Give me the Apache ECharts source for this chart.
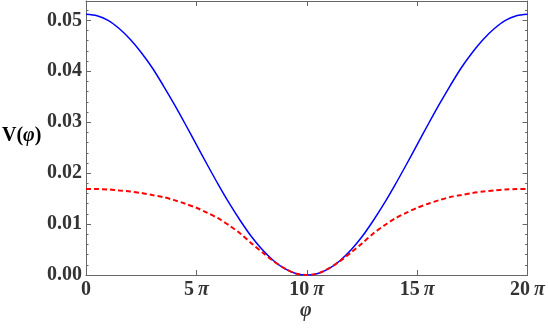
<!DOCTYPE html>
<html><head><meta charset="utf-8">
<script src="https://cdn.jsdelivr.net/npm/echarts@6/dist/echarts.min.js"></script>
<style>html,body{margin:0;padding:0;background:#fff}#c{width:548px;height:328px}</style>
</head><body><div id="c"></div>
<script>
// phi in units of pi
const phi = [0,0.5,1,1.5,2,2.5,3,3.5,4,4.5,5,5.5,6,6.5,7,7.5,8,8.5,9,9.5,10,
             10.5,11,11.5,12,12.5,13,13.5,14,14.5,15,15.5,16,16.5,17,17.5,18,18.5,19,19.5,20];
const blueV = [0.0512,0.0509,0.0500,0.0484,0.0463,0.0437,0.0407,0.0372,0.0335,0.0296,0.0256,
               0.0216,0.0177,0.0140,0.0106,0.0075,0.0049,0.0028,0.00125,0.0003,0,
               0.0003,0.00125,0.0028,0.0049,0.0075,0.0106,0.0140,0.0177,0.0216,0.0256,
               0.0296,0.0335,0.0372,0.0407,0.0437,0.0463,0.0484,0.0500,0.0509,0.0512];
const redV = [0.0169,0.01687,0.0168,0.0166,0.0164,0.0161,0.0157,0.0153,0.0147,0.0140,0.0132,
              0.0122,0.0111,0.0097,0.0081,0.0062,0.0044,0.0027,0.0013,0.0003,0,
              0.0003,0.0013,0.0027,0.0044,0.0062,0.0081,0.0097,0.0111,0.0122,0.0132,
              0.0140,0.0147,0.0153,0.0157,0.0161,0.0164,0.0166,0.0168,0.01687,0.0169];
const xTicks = [0,5,10,15,20];
const yTicks = [0,0.01,0.02,0.03,0.04,0.05];

const font = 'Liberation Serif';
const frame = '#666';
const labelColor = '#333';
const fs = 20;
const chart = echarts.init(document.getElementById('c'));
const xBase = {
  type:'value', min:0, max:20, interval:5,
  axisLine:{show:true, onZero:false, lineStyle:{color:frame, width:1}},
  axisTick:{show:true, inside:true, length:5, lineStyle:{color:frame}},
  minorTick:{show:false},
  splitLine:{show:false}
};
const yBase = {
  type:'value', min:0, max:0.0538, interval:0.01,
  axisLine:{show:true, onZero:false, lineStyle:{color:frame, width:1}},
  axisTick:{show:true, inside:true, length:5, lineStyle:{color:frame}},
  minorTick:{show:true, splitNumber:5, length:2.5, lineStyle:{color:frame}},
  splitLine:{show:false}
};
const richB = {fontFamily:font, fontWeight:'bold', fontSize:fs, color:labelColor};
const richI = {fontFamily:font, fontWeight:'bold', fontStyle:'italic', fontSize:fs, color:labelColor};
chart.setOption({
  animation:false,
  grid:{left:86, right:19, top:1, bottom:53},
  xAxis:[
    Object.assign({}, xBase, {position:'bottom',
      axisLabel:{show:true, color:labelColor, fontFamily:font, fontWeight:'bold', fontSize:fs, margin:5,
        rich:{n:richB, p:richI},
        formatter:v => xTicks.indexOf(v) < 0 ? '' : (v === 0 ? '{n|0}' : '{n|' + v + '\u2009}{p|π}')}}),
    Object.assign({}, xBase, {position:'top', axisLabel:{show:false}})
  ],
  yAxis:[
    Object.assign({}, yBase, {position:'left',
      axisLabel:{show:true, color:labelColor, fontFamily:font, fontWeight:'bold', fontSize:fs, margin:4,
        showMaxLabel:false,
        formatter:v => yTicks.some(t => Math.abs(t - v) < 1e-9) ? v.toFixed(2) : ''}}),
    Object.assign({}, yBase, {position:'right', axisLabel:{show:false}})
  ],
  graphic:[
    {type:'text', left:2, top:126, style:{
      text:'{b|V(}{i|φ}{b|)}',
      rich:{b:richB, i:richI}}},
    {type:'text', left:300, top:301, style:{
      text:'φ', fill:labelColor, font:'italic bold 20px "Liberation Serif"'}}
  ],
  series:[
    {type:'line', xAxisIndex:0, yAxisIndex:0, data:phi.map((x,i)=>[x, blueV[i]]),
     smooth:0.3, symbol:'none', lineStyle:{color:'#0000ff', width:1.5}, clip:true},
    {type:'line', xAxisIndex:0, yAxisIndex:0, data:phi.map((x,i)=>[x, redV[i]]),
     smooth:0.3, symbol:'none', lineStyle:{color:'#ff0000', width:2, type:[5,3]}, clip:true}
  ]
});
</script></body></html>
